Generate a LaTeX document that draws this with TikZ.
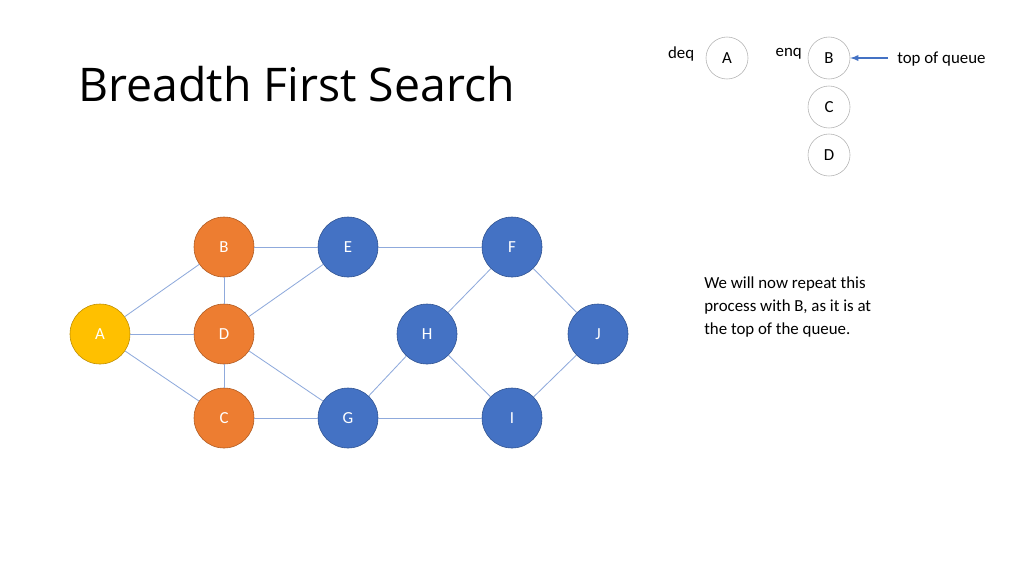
\documentclass[tikz,border=0pt]{standalone}
\usepackage{fontspec}
\setmainfont{Carlito}
\newfontfamily\titlefont{Open Sans}
\usetikzlibrary{positioning}
\tikzset{
  vtx/.style={circle,minimum size=1.5cm,inner sep=0pt,draw,font=\fontsize{12}{14}\selectfont,text=white},
  seen/.style={vtx,fill={rgb,255:red,237;green,125;blue,49},draw={rgb,255:red,174;green,90;blue,33}},
  start/.style={vtx,fill={rgb,255:red,255;green,192;blue,0},draw={rgb,255:red,188;green,140;blue,0}},
  fresh/.style={vtx,fill={rgb,255:red,68;green,114;blue,196},draw={rgb,255:red,47;green,82;blue,143}},
  qnode/.style={circle,minimum size=1.05cm,inner sep=0pt,draw=gray!60,font=\fontsize{12}{14}\selectfont},
  link/.style={draw={rgb,255:red,143;green,170;blue,220},line width=0.6pt},
  txt/.style={font=\fontsize{12}{14}\selectfont,inner sep=0pt}
}
\begin{document}
\begin{tikzpicture}[x=0.025cm,y=-0.025cm]
	\useasboundingbox (0,0) rectangle (1024,575);
	\node[anchor=west,inner sep=0pt,font=\titlefont\fontsize{33}{40}\selectfont] (title) at (78,84) {Breadth First Search};
	% graph
	\node[start] (A) at (100,334) {A};
	\node[seen] (B) at (224,247) {B}; \node[seen] (D) at (224,334) {D}; \node[seen] (C) at (224,418) {C};
	\node[fresh] (E) at (348,247) {E}; \node[fresh] (G) at (348,418) {G};
	\node[fresh] (F) at (512,247) {F}; \node[fresh] (H) at (427,334) {H};
	\node[fresh] (I) at (512,418) {I}; \node[fresh] (J) at (598,334) {J};
	\foreach \a/\b in {A/B,A/D,A/C,B/D,D/C,B/E,D/E,D/G,C/G,E/F,F/H,F/J,G/H,G/I,H/I,I/J}
		\draw[link] (\a) -- (\b);
	% queue
	\node[qnode] (qA) at (727,58) {A};
	\node[qnode] (qB) at (829,58) {B};
	\node[qnode] (qC) at (829,107) {C};
	\node[qnode] (qD) at (829,155) {D};
	\node[txt,left=8pt of qA,yshift=3pt] (deq) {deq};
	\node[txt,left=4pt of qB,yshift=3pt] (enq) {enq};
	\node[txt,anchor=west] (top) at (897,59) {top of queue};
	\coordinate (tail) at (888,58);
	\draw[-latex,draw={rgb,255:red,68;green,114;blue,196},line width=1pt] (tail) -- (qB);
	\node[txt,anchor=north west,align=left,font=\fontsize{12}{16.5}\selectfont] (note) at (704,276)
		{We will now repeat this\\process with B, as it is at\\the top of the queue.};
\end{tikzpicture}
\end{document}
